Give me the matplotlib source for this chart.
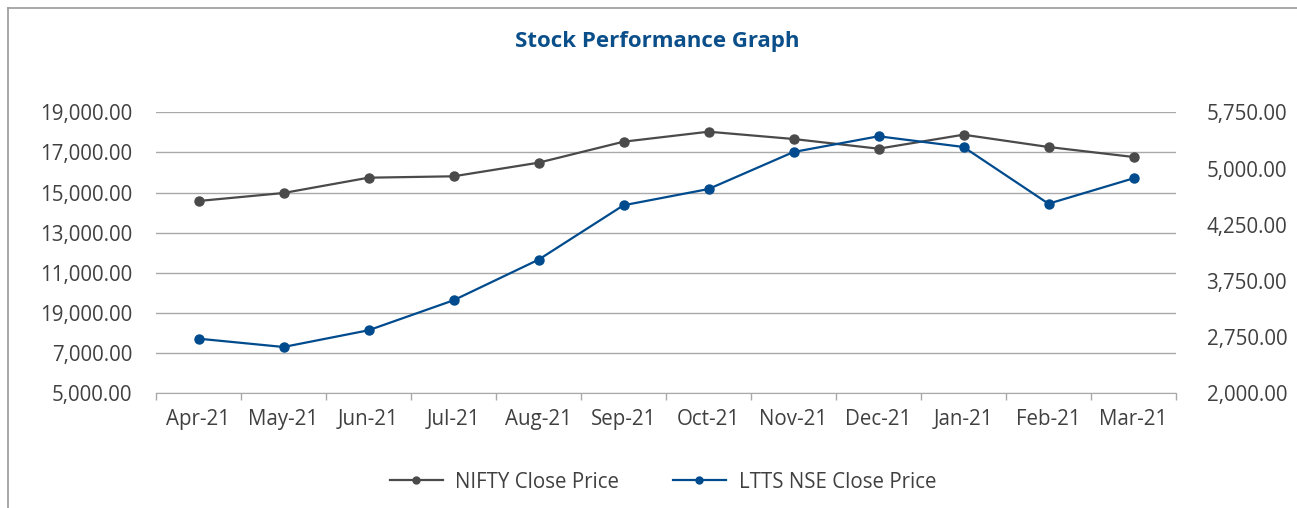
import matplotlib.pyplot as plt
from matplotlib.lines import Line2D
import numpy as np

plt.rcParams['font.family'] = ['Open Sans', 'DejaVu Sans']

# Daten
months = ['Apr-21', 'May-21', 'Jun-21', 'Jul-21', 'Aug-21', 'Sep-21',
          'Oct-21', 'Nov-21', 'Dec-21', 'Jan-21', 'Feb-21', 'Mar-21']
nifty = [14581, 14979, 15742, 15811, 16489, 17535,
         18033, 17670, 17187, 17884, 17271, 16773]
ltts = [2729, 2618, 2841, 3241, 3783, 4509,
        4726, 5220, 5430, 5287, 4530, 4869]

left_ticks = [5000, 7000, 9000, 11000, 13000, 15000, 17000, 19000]
left_labels = ['5,000.00', '7,000.00', '19,000.00', '11,000.00',
               '13,000.00', '15,000.00', '17,000.00', '19,000.00']
right_ticks = [2000, 2750, 3500, 4250, 5000, 5750]
right_labels = ['2,000.00', '2,750.00', '3,750.00', '4,250.00',
                '5,000.00', '5,750.00']

c_nifty = '#4a4a4a'
c_ltts = '#004b8d'
c_grid = '#a9a9a9'
c_text = '#404040'
fs = 14.8

fig = plt.figure(figsize=(12.97, 5.08), dpi=100)
ax = fig.add_axes([156/1297, 1 - 393.3/508, (1176-156)/1297, (393.3-112.3)/508])
ax2 = ax.twinx()

x = np.arange(len(months))
ax.plot(x, nifty, color=c_nifty, lw=1.6, marker='o', ms=6.5, zorder=3)
ax2.plot(x, ltts, color=c_ltts, lw=1.6, marker='o', ms=6.5, zorder=3)

ax.set_xlim(-0.5, len(months) - 0.5)
ax.set_ylim(5000, 19000)
ax2.set_ylim(2000, 5750)

ax.set_yticks(left_ticks)
ax.set_yticklabels(left_labels)
ax2.set_yticks(right_ticks)
ax2.set_yticklabels(right_labels)

ax.set_xticks(x)
ax.set_xticklabels(months)
ax.set_xticks(np.arange(-0.5, len(months)), minor=True)
ax.tick_params(axis='x', which='major', length=0, pad=11, labelsize=fs, labelcolor=c_text)
ax.tick_params(axis='x', which='minor', length=5, width=1, color=c_grid)
ax.tick_params(axis='y', length=0, pad=17, labelsize=fs, labelcolor=c_text)
ax2.tick_params(axis='y', length=0, pad=22, labelsize=fs, labelcolor=c_text)

ax.yaxis.grid(True, color=c_grid, lw=1)
ax.set_axisbelow(True)
for a in (ax, ax2):
    for s in ['top', 'left', 'right']:
        a.spines[s].set_visible(False)
    a.spines['bottom'].set_color(c_grid)
ax2.spines['bottom'].set_visible(False)

fig.text(0.507, 1 - 41/508, 'Stock Performance Graph', ha='center', va='center',
         fontsize=16, fontweight='bold', color='#0b4f8a')

handles = [Line2D([], [], color=c_nifty, lw=1.6, marker='o', ms=5),
           Line2D([], [], color=c_ltts, lw=1.6, marker='o', ms=5)]
fig.legend(handles, ['NIFTY Close Price', 'LTTS NSE Close Price'],
           loc='center', bbox_to_anchor=(0.511, 1 - 482/508), ncol=2,
           frameon=False, fontsize=fs, handlelength=2.6, handletextpad=0.6,
           columnspacing=2.6, labelcolor=c_text)

# Rahmen oben und links
fig.add_artist(Line2D([8/1297, 8/1297], [0, 1 - 8/508], color='#999999', lw=1.2))
fig.add_artist(Line2D([8/1297, 1], [1 - 8/508, 1 - 8/508], color='#999999', lw=1.2))

fig.savefig('out.png', dpi=100)
